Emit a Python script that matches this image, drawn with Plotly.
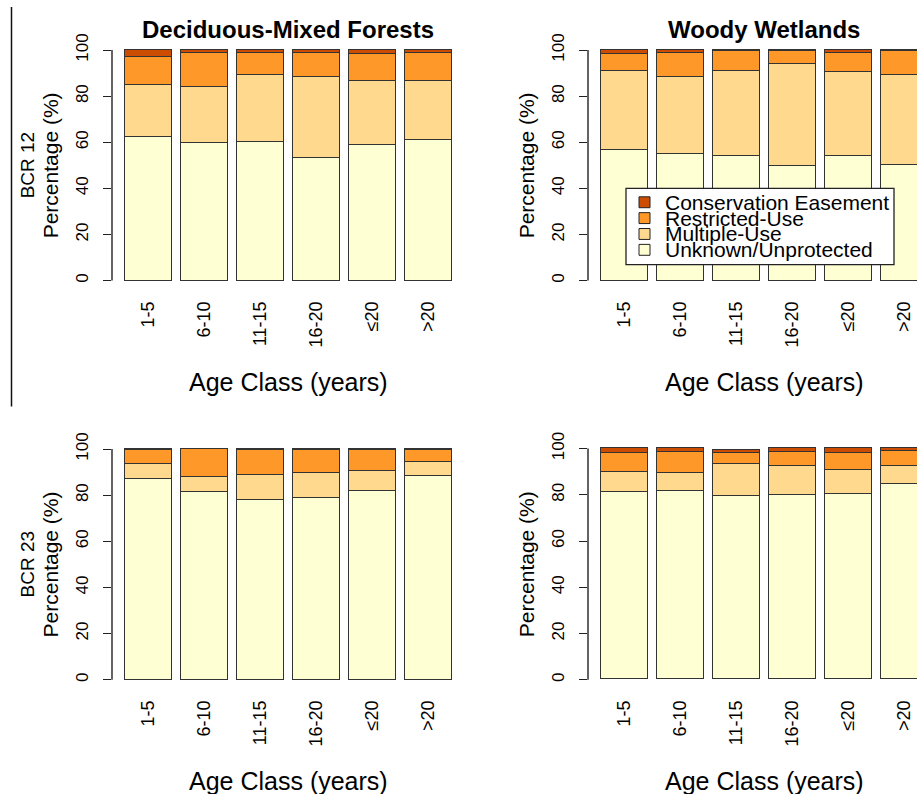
import plotly.graph_objects as go

# ---- data -------------------------------------------------------------
age_classes = ["1-5", "6-10", "11-15", "16-20", "≤20", ">20"]

series_names = ["Unknown/Unprotected", "Multiple-Use", "Restricted-Use", "Conservation Easement"]
series_colors = ["#FFFFD4", "#FED98E", "#FE9929", "#CC4C02"]

# BCR 12 - Deciduous-Mixed Forests
bcr12_dmf_unknown = [62.4, 59.9, 60.3, 53.3, 59.0, 61.0]
bcr12_dmf_multiple = [22.5, 24.0, 29.0, 35.1, 27.6, 25.6]
bcr12_dmf_restricted = [12.0, 15.0, 9.6, 10.5, 11.7, 12.3]
bcr12_dmf_easement = [3.1, 1.1, 1.1, 1.1, 1.7, 1.1]

# BCR 12 - Woody Wetlands
bcr12_ww_unknown = [56.9, 55.0, 53.9, 49.9, 54.3, 50.3]
bcr12_ww_multiple = [34.1, 33.4, 37.0, 44.1, 36.1, 39.1]
bcr12_ww_restricted = [7.3, 10.5, 8.6, 5.5, 8.5, 10.1]
bcr12_ww_easement = [1.7, 1.1, 0.5, 0.5, 1.1, 0.5]

# BCR 23 - Deciduous-Mixed Forests
bcr23_dmf_unknown = [87.1, 81.5, 78.0, 78.9, 81.9, 88.5]
bcr23_dmf_multiple = [6.4, 6.4, 11.0, 10.6, 8.8, 5.9]
bcr23_dmf_restricted = [6.0, 12.1, 10.7, 10.2, 9.0, 5.3]
bcr23_dmf_easement = [0.5, 0.0, 0.3, 0.3, 0.3, 0.3]

# BCR 23 - Woody Wetlands
bcr23_ww_unknown = [80.9, 81.3, 79.5, 79.9, 80.3, 84.5]
bcr23_ww_multiple = [9.0, 8.0, 13.8, 12.5, 10.4, 7.9]
bcr23_ww_restricted = [8.1, 9.0, 4.8, 6.0, 7.4, 6.4]
bcr23_ww_easement = [2.0, 1.7, 1.3, 1.6, 1.9, 1.2]

y_ticks = [0, 20, 40, 60, 80, 100]

# ---- layout geometry (pixels) ------------------------------------------
W, H = 917, 794
FONT = "Liberation Sans, Arial, sans-serif"
PX_PER_UNIT = 46.69          # one bar width
X_MIN = -0.08
bar_centers = [0.7 + 1.2 * i for i in range(len(age_classes))]

panels = [
    dict(series=[bcr12_dmf_unknown, bcr12_dmf_multiple, bcr12_dmf_restricted, bcr12_dmf_easement],
         x0=112, x1=465, y0=276.0, y100=43.5, title="Deciduous-Mixed Forests", row="BCR 12"),
    dict(series=[bcr12_ww_unknown, bcr12_ww_multiple, bcr12_ww_restricted, bcr12_ww_easement],
         x0=588, x1=917, y0=276.0, y100=43.5, title="Woody Wetlands", row=None),
    dict(series=[bcr23_dmf_unknown, bcr23_dmf_multiple, bcr23_dmf_restricted, bcr23_dmf_easement],
         x0=112, x1=465, y0=678.7, y100=446.0, title=None, row="BCR 23"),
    dict(series=[bcr23_ww_unknown, bcr23_ww_multiple, bcr23_ww_restricted, bcr23_ww_easement],
         x0=588, x1=917, y0=678.7, y100=445.5, title=None, row=None),
]

FULL_WIDTH_PX = 7.56 * PX_PER_UNIT

fig = go.Figure()
layout = dict(
    width=W, height=H,
    margin=dict(l=0, r=0, t=0, b=0),
    paper_bgcolor="white", plot_bgcolor="white",
    barmode="stack", bargap=0, showlegend=False,
    font=dict(family=FONT, color="black"),
)
shapes = []
annotations = []

for i, p in enumerate(panels, start=1):
    xa = "x" if i == 1 else f"x{i}"
    ya = "y" if i == 1 else f"y{i}"
    for name, color, vals in zip(series_names, series_colors, p["series"]):
        fig.add_trace(go.Bar(
            x=bar_centers, y=vals, name=name, width=1.0,
            marker=dict(color=color, line=dict(color="#333333", width=1.3)),
            xaxis=xa, yaxis=ya, showlegend=False,
        ))

    s = (p["y0"] - p["y100"]) / 100.0
    top_px = p["y100"] - 4 * s
    bot_px = p["y0"] + 4 * s
    x_span = (p["x1"] - p["x0"]) / PX_PER_UNIT

    layout["xaxis" if i == 1 else f"xaxis{i}"] = dict(
        domain=[p["x0"] / W, p["x1"] / W], range=[X_MIN, X_MIN + x_span],
        anchor=ya, tickvals=bar_centers, ticktext=age_classes, tickangle=-90,
        ticks="", showline=False, showgrid=False, zeroline=False,
        tickfont=dict(size=18, family=FONT), ticklabelstandoff=7, fixedrange=True,
    )
    layout["yaxis" if i == 1 else f"yaxis{i}"] = dict(
        domain=[1 - bot_px / H, 1 - top_px / H], range=[-4, 104],
        anchor=xa, tickvals=y_ticks, ticks="outside", ticklen=8, tickwidth=1.3,
        tickcolor="#222222", tickangle=-90, showline=False, showgrid=False,
        zeroline=False, tickfont=dict(size=17, family=FONT), ticklabelstandoff=8,
        fixedrange=True,
    )
    # y axis line spanning 0..100 only
    shapes.append(dict(type="line", xref=f"{xa} domain", yref=ya, x0=0, x1=0, y0=0, y1=100,
                       line=dict(color="#222222", width=1.4)))

    cx = (p["x0"] + FULL_WIDTH_PX / 2) / W
    cy = 1 - (p["y0"] + p["y100"]) / 2 / H
    annotations.append(dict(text="Percentage (%)", x=(p["x0"] - 62) / W, y=cy, xref="paper", yref="paper",
                            textangle=-90, showarrow=False, xanchor="center", yanchor="middle",
                            font=dict(size=21, family=FONT)))
    if p["row"]:
        annotations.append(dict(text=p["row"], x=(p["x0"] - 85) / W, y=cy, xref="paper", yref="paper",
                                textangle=-90, showarrow=False, xanchor="center", yanchor="middle",
                                font=dict(size=19, family=FONT)))
    if p["title"]:
        annotations.append(dict(text=f"<b>{p['title']}</b>", x=cx, y=1 - 23 / H, xref="paper", yref="paper",
                                showarrow=False, xanchor="center", yanchor="middle",
                                font=dict(size=24, family=FONT)))
    annotations.append(dict(text="Age Class (years)", x=cx, y=1 - (p["y0"] + 102) / H,
                            xref="paper", yref="paper", showarrow=False,
                            xanchor="center", yanchor="middle", font=dict(size=25, family=FONT)))

# ---- legend box in the Woody Wetlands panel -----------------------------
lg_left, lg_right, lg_top, lg_bottom = 626, 894, 183, 260
shapes.append(dict(type="rect", xref="paper", yref="paper", layer="above",
                   x0=lg_left / W, x1=lg_right / W, y0=1 - lg_bottom / H, y1=1 - lg_top / H,
                   fillcolor="white", line=dict(color="#222222", width=1.3)))
row_centers = [197, 213, 229, 245]
legend_order = list(range(len(series_names)))[::-1]
for rc, k in zip(row_centers, legend_order):
    shapes.append(dict(type="rect", xref="paper", yref="paper", layer="above",
                       x0=639 / W, x1=650 / W, y0=1 - (rc + 5.5) / H, y1=1 - (rc - 5.5) / H,
                       fillcolor=series_colors[k], line=dict(color="#222222", width=1)))
    annotations.append(dict(text=series_names[k], x=663 / W, y=1 - rc / H, xref="paper", yref="paper",
                            showarrow=False, xanchor="left", yanchor="middle",
                            font=dict(size=21, family=FONT)))

# vertical rule at far left
shapes.append(dict(type="line", xref="paper", yref="paper", x0=11.5 / W, x1=11.5 / W,
                   y0=1 - 403 / H, y1=1, line=dict(color="#111111", width=1.5)))

layout["shapes"] = shapes
layout["annotations"] = annotations
fig.update_layout(**layout)

fig.write_html("out.html", config={"displayModeBar": False})
